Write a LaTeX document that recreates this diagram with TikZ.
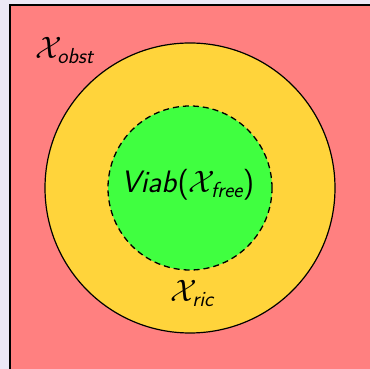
\documentclass[tikz,border=0pt]{standalone}
\usepackage{amsmath,amsfonts,amssymb}
\usepackage{tikz}
\usetikzlibrary{positioning,calc}
\DeclareFontShape{OMS}{cmsy}{m}{n}{<->cmsy10}{}
\definecolor{slidebg}{RGB}{236,232,246}
\definecolor{obstred}{RGB}{255,128,128}
\definecolor{ricyellow}{RGB}{255,212,59}
\definecolor{freegreen}{RGB}{64,255,64}
\newcommand{\setlab}[1]{\textsf{\textit{#1}}}

\begin{document}
\begin{tikzpicture}[x=1pt,y=1pt,
    lab/.style={font=\fontsize{31}{36}\selectfont\sffamily\itshape, inner sep=0pt, anchor=base west}]
  \useasboundingbox (0,0) rectangle (370,369);
  \fill[slidebg] (0,0) rectangle (370,369);
  \draw[obstred,fill=obstred] (9.5,-5) rectangle (380,363.5);
  \draw[line width=2pt] (9.5,-5) -- (9.5,363.5) -- (380,363.5);
  \draw[ricyellow,fill=ricyellow] (190,181) circle (145);
  \draw[line width=1.2pt] (190,181) circle (145);
  \fill[freegreen] (190,181) circle (82);
  \draw[line width=1.3pt,dash pattern=on 6pt off 4pt] (190,181) circle (82);
  \node[lab] (obst) at (35,310) {$\mathcal{X}_{\setlab{obst}}$};
  \node[lab] (viab) at (121,176) {Viab\textup{(}$\mathcal{X}_{\setlab{free}}$\textup{)}};
  \node[lab] (ric) at (170,67) {$\mathcal{X}_{\setlab{ric}}$};
\end{tikzpicture}
\end{document}
